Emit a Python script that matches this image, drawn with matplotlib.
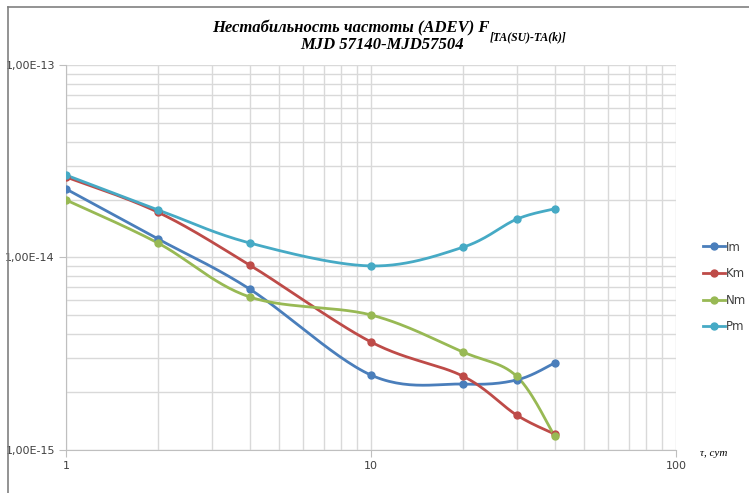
import numpy as np
import matplotlib.pyplot as plt
from matplotlib.lines import Line2D
from matplotlib.ticker import FixedLocator, NullFormatter, FuncFormatter

# Данные (tau, сут)
tau = [1, 2, 4, 10, 20, 30, 40]
Im = [2.27e-14, 1.25e-14, 6.86e-15, 2.45e-15, 2.20e-15, 2.31e-15, 2.83e-15]
Km = [2.62e-14, 1.72e-14, 9.14e-15, 3.64e-15, 2.42e-15, 1.52e-15, 1.21e-15]
Nm = [1.99e-14, 1.19e-14, 6.24e-15, 5.03e-15, 3.23e-15, 2.42e-15, 1.18e-15]
Pm = [2.68e-14, 1.77e-14, 1.19e-14, 9.04e-15, 1.13e-14, 1.58e-14, 1.79e-14]

series = [("Im", Im, "#4a7ebb"), ("Km", Km, "#be4b48"),
          ("Nm", Nm, "#98b954"), ("Pm", Pm, "#46aac5")]


# Сглаживание как в Excel (Catmull-Rom в лог. координатах)
def smooth(xs, ys, n=30):
    lx = np.log10(xs) * 1.58
    ly = np.log10(ys)
    px = np.concatenate([[lx[0]], lx, [lx[-1]]])
    py = np.concatenate([[ly[0]], ly, [ly[-1]]])
    ox, oy = [], []
    for i in range(1, len(px) - 2):
        x0, x1, x2, x3 = px[i-1:i+3]
        y0, y1, y2, y3 = py[i-1:i+3]
        c1x, c1y = x1 + (x2 - x0) / 6, y1 + (y2 - y0) / 6
        c2x, c2y = x2 - (x3 - x1) / 6, y2 - (y3 - y1) / 6
        t = np.linspace(0, 1, n)
        bx = (1-t)**3*x1 + 3*(1-t)**2*t*c1x + 3*(1-t)*t**2*c2x + t**3*x2
        by = (1-t)**3*y1 + 3*(1-t)**2*t*c1y + 3*(1-t)*t**2*c2y + t**3*y2
        ox.extend(bx)
        oy.extend(by)
    return 10 ** (np.array(ox) / 1.58), 10 ** np.array(oy)


fig = plt.figure(figsize=(7.49, 4.93), dpi=100)
ax = fig.add_axes([0.0881, 0.0872, 0.8145, 0.7810])

for name, vals, col in series:
    sx, sy = smooth(tau, vals)
    ax.plot(sx, sy, color=col, lw=2.0, zorder=3)
    ax.plot(tau, vals, "o", color=col, ms=5, zorder=4)

ax.set_xscale("log")
ax.set_yscale("log")
ax.set_xlim(1, 100)
ax.set_ylim(1e-15, 1e-13)

ax.xaxis.set_major_locator(FixedLocator([1, 10, 100]))
ax.xaxis.set_major_formatter(FuncFormatter(lambda v, p: "%d" % v))
ax.yaxis.set_major_locator(FixedLocator([1e-15, 1e-14, 1e-13]))
ax.yaxis.set_major_formatter(FuncFormatter(
    lambda v, p: ("%.2E" % v).replace(".", ",")))
ax.xaxis.set_minor_formatter(NullFormatter())
ax.yaxis.set_minor_formatter(NullFormatter())

ax.grid(True, which="both", color="#d9d9d9", lw=1.0)
ax.set_axisbelow(True)
for s in ["top", "right"]:
    ax.spines[s].set_visible(False)
for s in ["left", "bottom"]:
    ax.spines[s].set_color("#bfbfbf")
ax.tick_params(which="major", direction="out", length=5, color="#bfbfbf",
               labelsize=8, labelcolor="#404040", pad=3)
ax.tick_params(which="minor", length=0)

# Легенда
handles = [Line2D([0], [0], color=c, lw=2, marker="o", ms=5) for _, _, c in series]
leg = fig.legend(handles, [n for n, _, _ in series], loc="center left",
                 bbox_to_anchor=(0.925, 0.418), frameon=False, fontsize=8.5,
                 handlelength=1.8, handletextpad=0.1, labelspacing=1.15)
for t in leg.get_texts():
    t.set_color("#404040")

# Подпись оси
fig.text(0.953, 0.080, "τ, сут", fontsize=8, style="italic",
         family="Liberation Serif", ha="center", va="center")

# Заголовок
t1 = fig.text(0.283, 0.943, "Нестабильность частоты (ADEV) F", fontsize=12,
              family="Liberation Serif", weight="bold", style="italic",
              ha="left", va="center")
ax.annotate("[TA(SU)-TA(k)]", xy=(1, -0.08), xycoords=t1, xytext=(0.5, 0),
            textcoords="offset points", fontsize=8.5, family="Liberation Serif",
            weight="bold", style="italic", ha="left", va="center",
            annotation_clip=False)
fig.text(0.510, 0.908, "MJD 57140-MJD57504", fontsize=12,
         family="Liberation Serif", weight="bold", style="italic",
         ha="center", va="center")

# Рамка диаграммы
fig.add_artist(Line2D([0.0107, 0.0107], [0, 0.986], color="#808080", lw=1.2))
fig.add_artist(Line2D([0.0107, 1], [0.986, 0.986], color="#808080", lw=1.2))

plt.savefig("out.png", dpi=100)
